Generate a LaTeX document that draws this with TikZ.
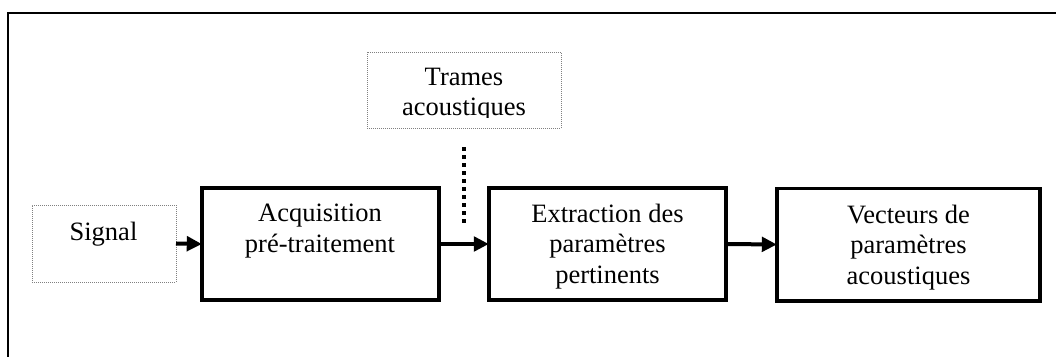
\documentclass[tikz,border=0pt]{standalone}
\usepackage{fontspec}
\setmainfont{Liberation Serif}
\usetikzlibrary{arrows.meta}
\begin{document}
\begin{tikzpicture}[x=1pt,y=-1pt,
  every node/.style={inner sep=0pt,outer sep=0pt},
  blockbox/.style={draw=black,line width=3.6pt,rectangle,minimum height=112.4pt},
  softbox/.style={draw=black!50,line width=0.8pt,dash pattern=on 1pt off 1pt,rectangle},
  label text/.style={font=\fontsize{26.5}{30.5}\selectfont,align=center,anchor=north},
  flow/.style={line width=4pt,-{Triangle[length=15pt,width=14.5pt]}},
  dots/.style={line width=4pt,dash pattern=on 4pt off 4pt}
]
\clip (0,0) rectangle (1056,356);
% outer frame (only its top and left edges fall inside the page)
\draw[line width=2pt] (8,380) -- (8,13) -- (1080,13);

% boxes
\node[softbox,minimum width=144pt,minimum height=77pt] (sig) at (104,243.5) {};
\node[blockbox,minimum width=237.4pt] (acq) at (320.5,244) {};
\node[blockbox,minimum width=237.4pt] (ext) at (607.5,244) {};
\node[blockbox,minimum width=263.4pt] (vec) at (908.5,244.5) {};
\node[softbox,minimum width=194pt,minimum height=76pt] (tra) at (464,90) {};

% labels
\node[label text] (sigt) at (103.5,222) {Signal};
\node[label text] (acqt) at (320,204) {Acquisition\\pré-traitement};
\node[label text] (extt) at (607.5,204) {Extraction des\\paramètres\\pertinents};
\node[label text] (vect) at (908.5,205) {Vecteurs de\\paramètres\\acoustiques};
\begin{scope}
  \clip (360,40) rectangle (570,117.5);
  \node[label text] (trat) at (464,68) {Trames\\acoustiques};
\end{scope}

% connectors
\draw[flow] (sig.east) -- (acq.west);
\draw[flow] (acq.east) -- (ext.west);
\draw[flow] (ext.east) -- (vec.west);
\coordinate (dtop) at (464,147);
\coordinate (dbot) at (464,226);
\draw[dots] (dtop) -- (dbot);
\end{tikzpicture}
\end{document}
